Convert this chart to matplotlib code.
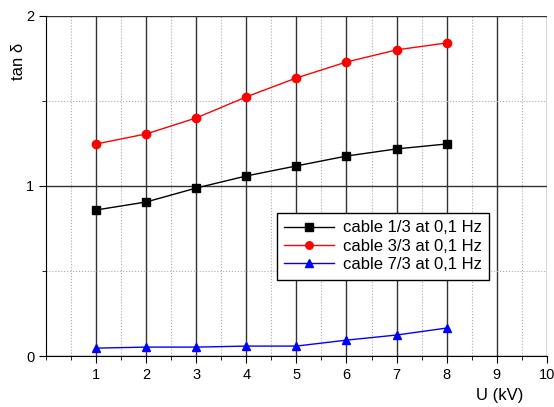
import matplotlib.pyplot as plt
from matplotlib.ticker import MultipleLocator

plt.rcParams["font.family"] = ["Liberation Sans", "DejaVu Sans"]

voltage = [1, 2, 3, 4, 5, 6, 7, 8]
cable_1 = [0.859, 0.906, 0.988, 1.059, 1.118, 1.176, 1.218, 1.247]
cable_3 = [1.247, 1.306, 1.400, 1.524, 1.635, 1.729, 1.800, 1.841]
cable_7 = [0.047, 0.053, 0.053, 0.059, 0.059, 0.094, 0.124, 0.165]


def main():
    fig = plt.figure(figsize=(5.54, 4.07), dpi=100)
    ax = fig.add_axes([0.083, 0.125, 0.904, 0.836])

    ax.plot(voltage, cable_1, "k-s", lw=1, ms=6, label="cable 1/3 at 0,1 Hz")
    ax.plot(voltage, cable_3, "-o", color="red", lw=1, ms=6, label="cable 3/3 at 0,1 Hz")
    ax.plot(voltage, cable_7, "-^", color="blue", lw=1, ms=6, label="cable 7/3 at 0,1 Hz")

    ax.set_xlim(0, 10)
    ax.set_ylim(0, 2)
    ax.xaxis.set_major_locator(MultipleLocator(1))
    ax.xaxis.set_minor_locator(MultipleLocator(0.5))
    ax.yaxis.set_major_locator(MultipleLocator(1))
    ax.yaxis.set_minor_locator(MultipleLocator(0.5))
    ax.set_xticks(range(1, 11))
    ax.tick_params(which="both", direction="out", labelsize=10.5)
    ax.tick_params(which="major", length=5)
    ax.tick_params(which="minor", length=3)

    ax.grid(which="major", color="#333333", lw=1, ls="-")
    ax.grid(which="minor", color="#aaaaaa", lw=0.8, ls=":")
    ax.set_axisbelow(True)

    for side in ["top", "right"]:
        ax.spines[side].set_visible(False)

    ax.set_xlabel("U (kV)", fontsize=12)
    ax.xaxis.set_label_coords(0.906, -0.095)
    ax.set_ylabel("tan δ", fontsize=12)
    ax.yaxis.set_label_coords(-0.04, 0.865)

    leg = ax.legend(loc="upper left", bbox_to_anchor=(0.461, 0.421), fontsize=12,
                    fancybox=False, framealpha=1, edgecolor="black",
                    borderpad=0.45, labelspacing=0.2, handlelength=3.0,
                    handletextpad=0.5, borderaxespad=0, markerscale=0.9)
    leg.get_frame().set_linewidth(1)

    fig.savefig("out.png")


if __name__ == "__main__":
    main()
